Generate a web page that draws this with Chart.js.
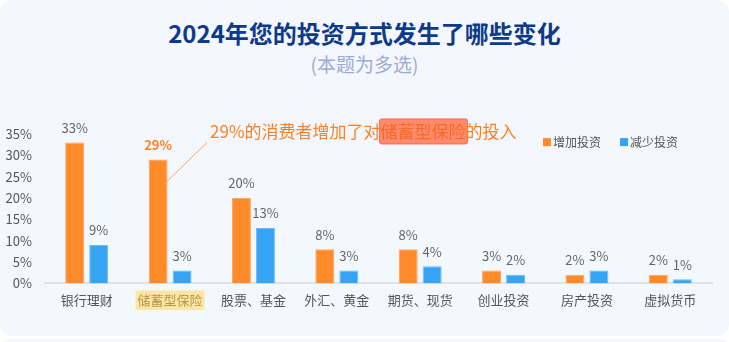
<!DOCTYPE html>
<html>
<head>
<meta charset="utf-8">
<script src="https://cdn.jsdelivr.net/npm/chart.js@4.4.1/dist/chart.umd.min.js"></script>
<style>
  html, body { margin: 0; padding: 0; background: #fff; }
  body { width: 729px; height: 342px; position: relative; overflow: hidden; font-family: "Noto Sans CJK SC", "Noto Sans", sans-serif; }
  .card { position: absolute; left: 0; top: 0; width: 729px; height: 336px; border-radius: 12px; background: linear-gradient(180deg, #F4F7FD 0%, #F2F8FE 100%); }
  .next { position: absolute; left: 0; top: 339px; width: 729px; height: 20px; border-radius: 10px; background: #F2F7FE; }
  .title { position: absolute; left: 0; width: 729px; top: 16px; text-align: center; font-size: 24px; font-weight: bold; color: #0E3A8A; line-height: 34px; }
  .sub { position: absolute; left: 0; width: 729px; top: 50px; text-align: center; font-size: 19px; color: #9DAAD3; line-height: 28px; }
  #chart { position: absolute; left: 0; top: 0; }
</style>
</head>
<body>
<div class="card"></div>
<div class="next"></div>
<div class="title">2024年您的投资方式发生了哪些变化</div>
<div class="sub">(本题为多选)</div>
<canvas id="chart" width="729" height="342"></canvas>
<script>
const categories = ["银行理财", "储蓄型保险", "股票、基金", "外汇、黄金", "期货、现货", "创业投资", "房产投资", "虚拟货币"];
const increaseValues = [33, 29, 20, 8, 8, 3, 2, 2];
const decreaseValues = [9, 3, 13, 3, 4, 2, 3, 1];
const yTicks = [0, 5, 10, 15, 20, 25, 30, 35];
const highlightIndex = 1;
const noteBefore = "29%的消费者增加了对";
const noteMark = "储蓄型保险";
const noteAfter = "的投入";

const FONT = '"Noto Sans CJK SC", "Noto Sans", sans-serif';
const ORANGE = "#FF8A29";
const BLUE = "#36A3F5";

// value labels above each bar
const barLabels = {
  id: "barLabels",
  afterDatasetsDraw(chart) {
    const ctx = chart.ctx;
    ctx.save();
    ctx.textAlign = "center";
    ctx.textBaseline = "bottom";
    chart.data.datasets.forEach((ds, di) => {
      chart.getDatasetMeta(di).data.forEach((bar, i) => {
        const special = di === 0 && i === highlightIndex;
        ctx.font = (special ? "bold " : "") + "13px " + FONT;
        ctx.fillStyle = special ? "#FF7F1E" : "#666";
        ctx.fillText(ds.data[i] + "%", bar.x, bar.y - 8);
      });
    });
    ctx.restore();
  }
};

// small legend in the top right of the plot
const cornerLegend = {
  id: "cornerLegend",
  afterDraw(chart) {
    const ctx = chart.ctx;
    const area = chart.chartArea;
    const yPos = chart.scales.y.getPixelForValue(33.1);
    ctx.save();
    ctx.font = "12px " + FONT;
    ctx.textBaseline = "middle";
    let xPos = area.right - 169;
    chart.data.datasets.forEach((ds) => {
      ctx.fillStyle = ds.backgroundColor;
      ctx.fillRect(xPos, yPos - 4, 8, 8);
      ctx.fillStyle = "#555";
      ctx.fillText(ds.label, xPos + 10, yPos);
      xPos += ctx.measureText(ds.label).width + 10 + 19;
    });
    ctx.restore();
  }
};

// callout for the highlighted category
const callout = {
  id: "callout",
  afterDraw(chart) {
    const ctx = chart.ctx;
    const y = chart.scales.y;
    const bar = chart.getDatasetMeta(0).data[highlightIndex];
    const x0 = bar.x + 5, y0 = y.getPixelForValue(23);
    const x1 = x0 + 44, y1 = y.getPixelForValue(33);
    ctx.save();
    ctx.strokeStyle = "#FFA25C";
    ctx.lineWidth = 1;
    ctx.beginPath();
    ctx.moveTo(x0, y0);
    ctx.lineTo(x1, y1);
    ctx.stroke();

    ctx.font = "17px " + FONT;
    ctx.textBaseline = "middle";
    const ty = y.getPixelForValue(35.6);
    const tx = x1 + 3;
    const w1 = ctx.measureText(noteBefore).width;
    const w2 = ctx.measureText(noteMark).width;
    ctx.fillStyle = "#FF8A6C";
    ctx.strokeStyle = "#FF6655";
    ctx.beginPath();
    ctx.roundRect(tx + w1 - 1, ty - 12.5, w2 + 3, 25, 2);
    ctx.fill();
    ctx.stroke();
    ctx.fillStyle = "#FF7F1E";
    ctx.fillText(noteBefore, tx, ty);
    ctx.fillStyle = "#F46A2A";
    ctx.fillText(noteMark, tx + w1, ty);
    ctx.fillStyle = "#FF7F1E";
    ctx.fillText(noteAfter, tx + w1 + w2, ty);
    ctx.restore();
  }
};

new Chart(document.getElementById("chart").getContext("2d"), {
  type: "bar",
  data: {
    labels: categories,
    datasets: [
      {
        label: "增加投资",
        data: increaseValues,
        backgroundColor: ORANGE,
        borderColor: "#FFA25C",
        borderWidth: 1,
        barPercentage: 0.79,
        categoryPercentage: 0.576,
      },
      {
        label: "减少投资",
        data: decreaseValues,
        backgroundColor: BLUE,
        borderColor: "#6DBCF7",
        borderWidth: 1,
        barPercentage: 0.79,
        categoryPercentage: 0.576,
      },
    ],
  },
  options: {
    responsive: false,
    animation: false,
    layout: { padding: { top: 134, left: 0, right: 17, bottom: 25 } },
    plugins: {
      legend: { display: false },
      tooltip: { enabled: false },
    },
    scales: {
      x: {
        grid: { display: false, drawTicks: false },
        border: { display: true, color: "#DDE2E8", width: 2 },
        ticks: {
          font: { size: 13, family: FONT },
          color: (c) => (c.index === highlightIndex ? "#B8964A" : "#555"),
          padding: 9,
          showLabelBackdrop: (c) => c.index === highlightIndex,
          backdropColor: "#FBE6A6",
          backdropPadding: 2,
        },
      },
      y: {
        min: 0,
        max: 35,
        afterBuildTicks: (s) => { s.ticks = yTicks.map((v) => ({ value: v })); },
        afterFit: (s) => { s.width = 45; },
        grid: { display: false, drawTicks: false },
        border: { display: false },
        ticks: {
          font: { size: 13, family: FONT },
          color: "#555",
          padding: 13,
          callback: (v) => v + "%",
        },
      },
    },
  },
  plugins: [barLabels, cornerLegend, callout],
});
</script>
</body>
</html>
